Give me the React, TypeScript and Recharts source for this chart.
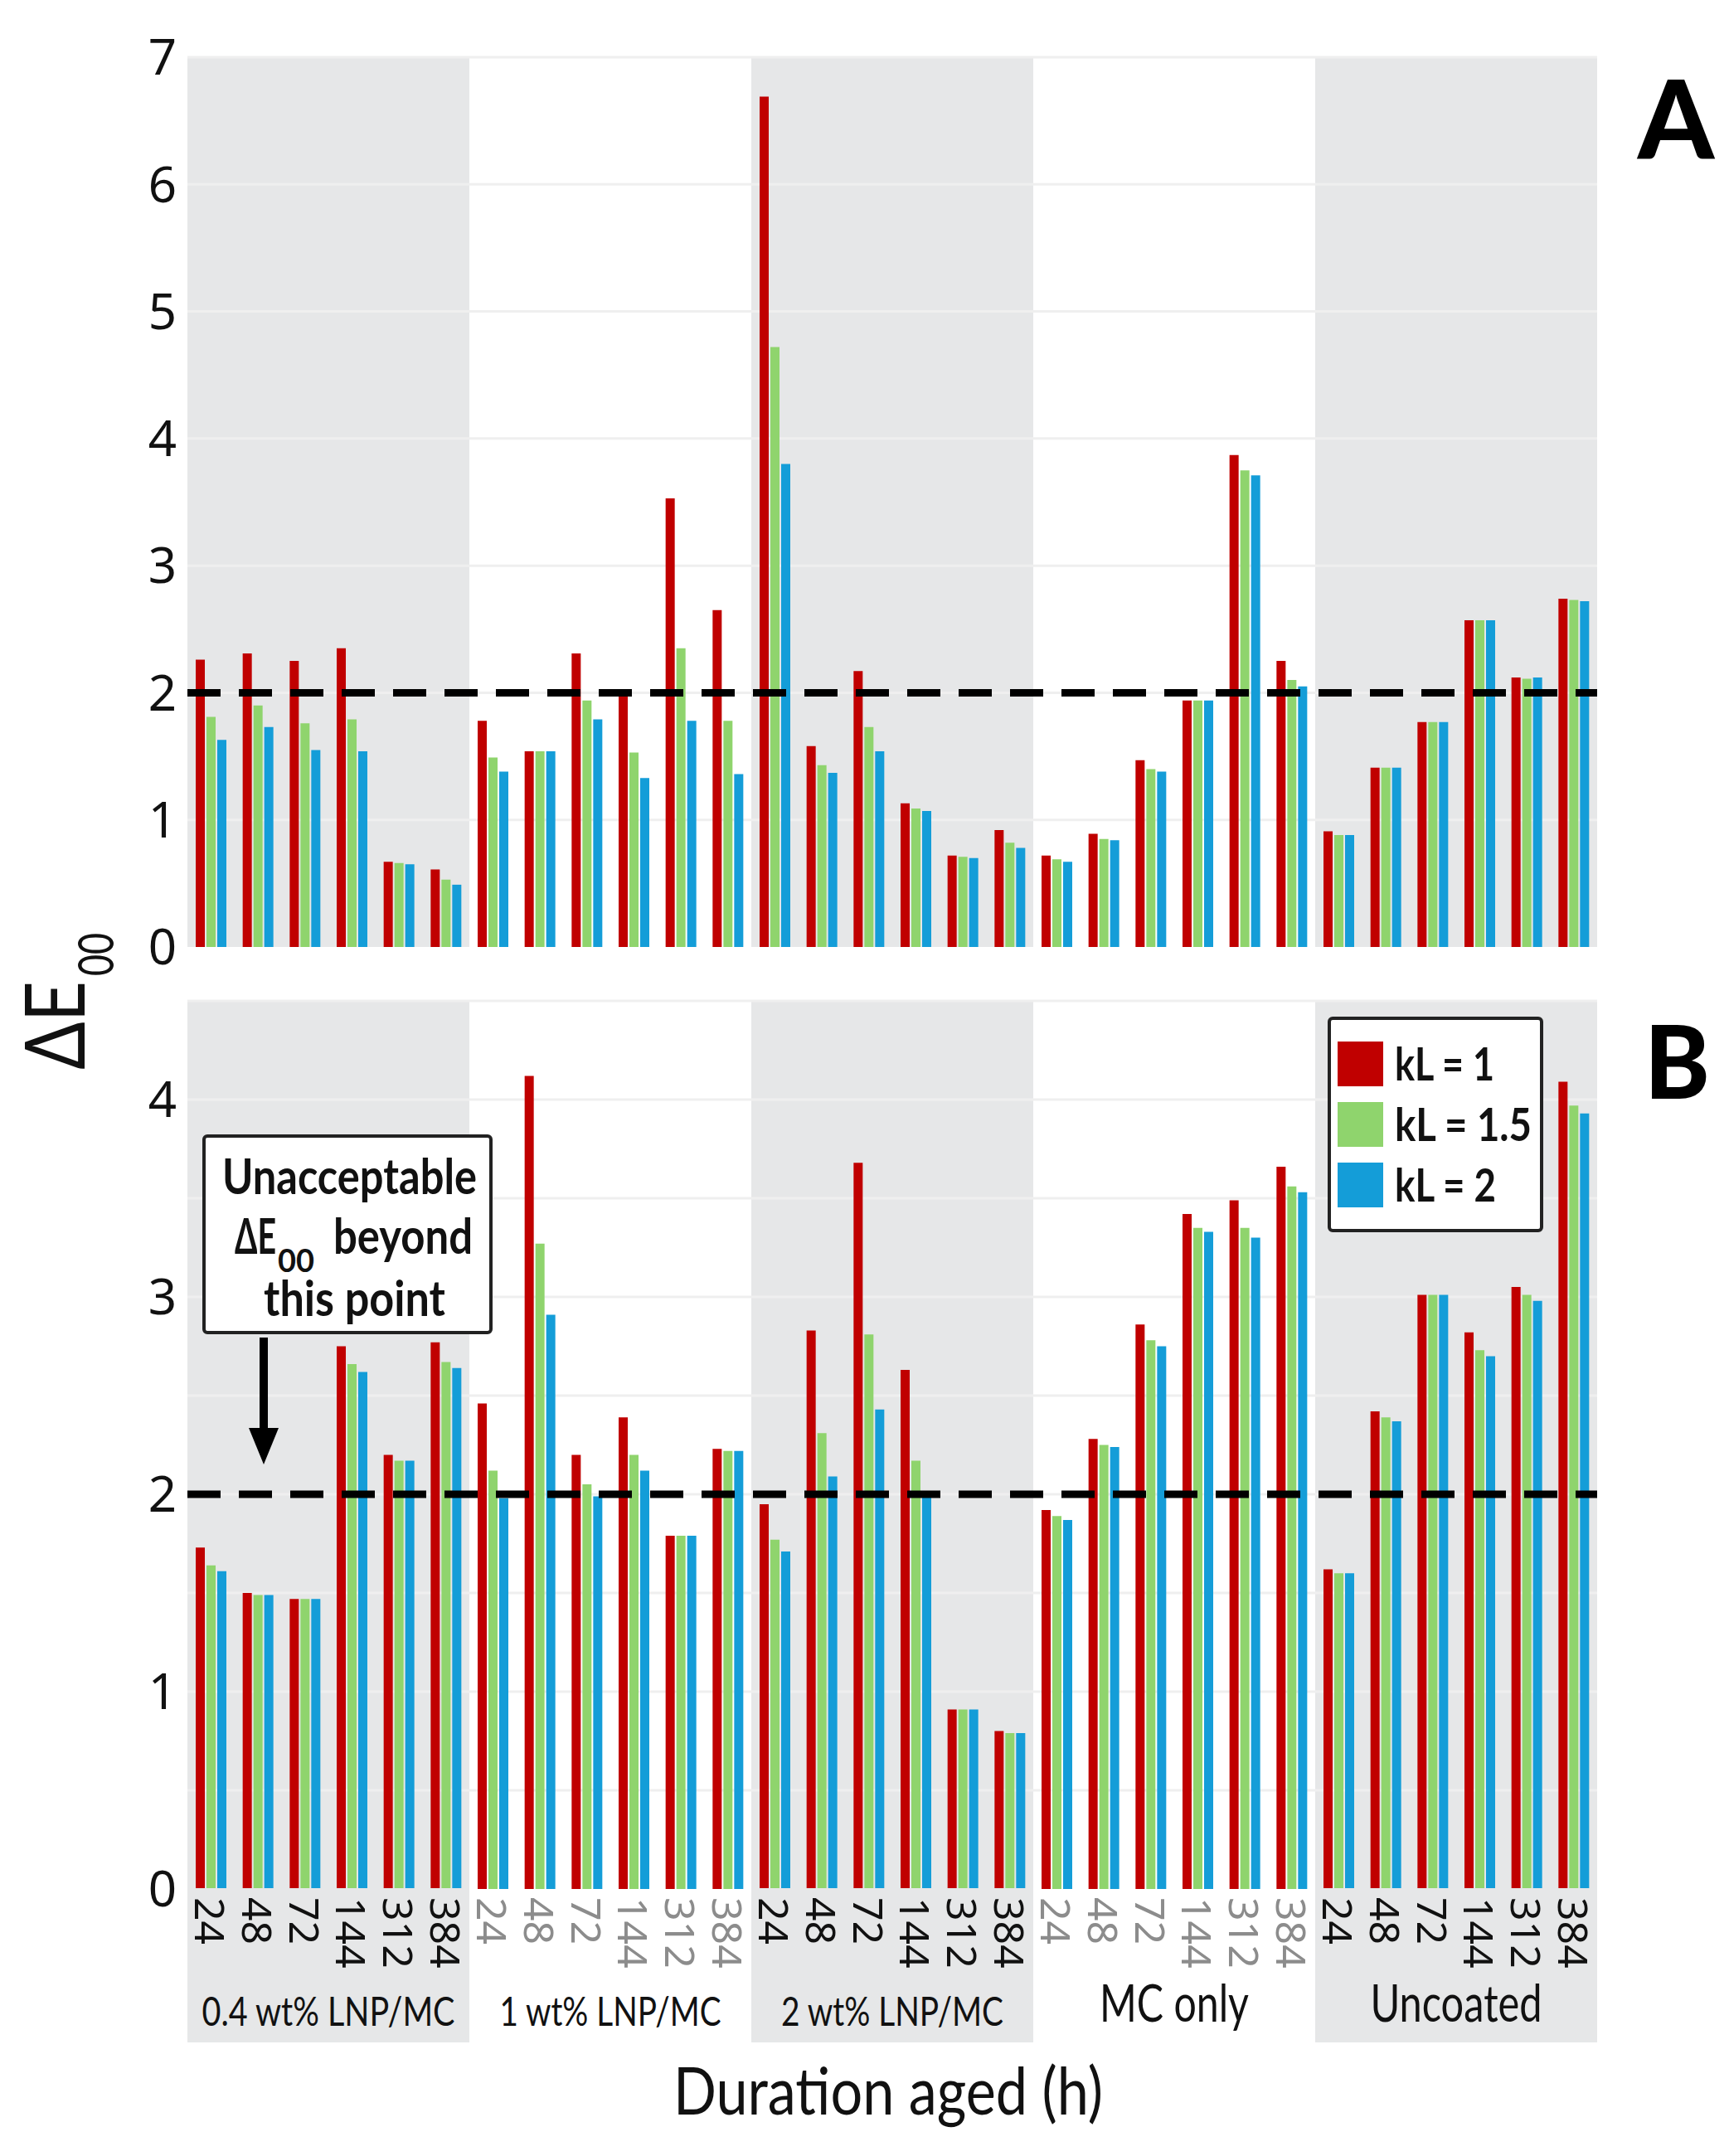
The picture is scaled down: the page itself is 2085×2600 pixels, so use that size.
import React from 'react';
import {
  BarChart,
  Bar,
  XAxis,
  YAxis,
  ReferenceArea,
  ReferenceLine,
  Legend,
} from 'recharts';

// ---------- data ----------
const hours = ['24', '48', '72', '144', '312', '384'];
const groups = ['0.4 wt% LNP/MC', '1 wt% LNP/MC', '2 wt% LNP/MC', 'MC only', 'Uncoated'];
const grayGroups = [true, false, true, false, true];

const seriesNames = ['kL = 1', 'kL = 1.5', 'kL = 2'];

const panelA_kL1 = [2.26, 2.31, 2.25, 2.35, 0.67, 0.61, 1.78, 1.54, 2.31, 2.01, 3.53, 2.65, 6.69, 1.58, 2.17, 1.13, 0.72, 0.92, 0.72, 0.89, 1.47, 1.94, 3.87, 2.25, 0.91, 1.41, 1.77, 2.57, 2.12, 2.74];
const panelA_kL15 = [1.81, 1.9, 1.76, 1.79, 0.66, 0.53, 1.49, 1.54, 1.94, 1.53, 2.35, 1.78, 4.72, 1.43, 1.73, 1.09, 0.71, 0.82, 0.69, 0.85, 1.4, 1.94, 3.75, 2.1, 0.88, 1.41, 1.77, 2.57, 2.11, 2.73];
const panelA_kL2 = [1.63, 1.73, 1.55, 1.54, 0.65, 0.49, 1.38, 1.54, 1.79, 1.33, 1.78, 1.36, 3.8, 1.37, 1.54, 1.07, 0.7, 0.78, 0.67, 0.84, 1.38, 1.94, 3.71, 2.05, 0.88, 1.41, 1.77, 2.57, 2.12, 2.72];

const panelB_kL1 = [1.73, 1.5, 1.47, 2.75, 2.2, 2.77, 2.46, 4.12, 2.2, 2.39, 1.79, 2.23, 1.95, 2.83, 3.68, 2.63, 0.91, 0.8, 1.92, 2.28, 2.86, 3.42, 3.49, 3.66, 1.62, 2.42, 3.01, 2.82, 3.05, 4.09];
const panelB_kL15 = [1.64, 1.49, 1.47, 2.66, 2.17, 2.67, 2.12, 3.27, 2.05, 2.2, 1.79, 2.22, 1.77, 2.31, 2.81, 2.17, 0.91, 0.79, 1.89, 2.25, 2.78, 3.35, 3.35, 3.56, 1.6, 2.39, 3.01, 2.73, 3.01, 3.97];
const panelB_kL2 = [1.61, 1.49, 1.47, 2.62, 2.17, 2.64, 1.98, 2.91, 1.99, 2.12, 1.79, 2.22, 1.71, 2.09, 2.43, 2.0, 0.91, 0.79, 1.87, 2.24, 2.75, 3.33, 3.3, 3.53, 1.6, 2.37, 3.01, 2.7, 2.98, 3.93];

const panelA_ticks = [0, 1, 2, 3, 4, 5, 6, 7];
const panelA_grid = [1, 2, 3, 4, 5, 6, 7];
const panelB_ticks = [0, 1, 2, 3, 4];
const panelB_grid = [0.5, 1, 1.5, 2, 2.5, 3, 3.5, 4, 4.5];
const threshold = 2;

// ---------- styling / layout ----------
const COLORS = ['#c00000', '#8fd46d', '#149dd8'];
const BAND = '#e6e7e8';
const GRID = '#efefef';
const FONT = "Lato, 'Noto Sans', sans-serif";
const TICKFONT = "'Noto Sans', 'Open Sans', sans-serif";
const INK = '#111';

// group label sizes / widths (text squeezed to the condensed look of the original)
const groupFontSizes = [49, 49, 49, 62, 62];
const groupTextWidths = [305, 267, 268, 180, 207];
const legendTextWidths = [120, 165, 122];

const W = 2085;
const H = 2600;
const PLOT_L = 226;
const PLOT_R = 1926;
const A_PLOT_TOP = 69;
const A_H = 1200;
const A_PLOT_BOTTOM = 1142;
const B_TOP = 1160;
const B_H = 1440;
const B_PLOT_TOP = 1207;
const B_PLOT_BOTTOM = 2278;
const XAXIS_H = 185;

const keyOf = (g: number, h: number) => `${g}-${hours[h]}`;

function buildRows(s1: number[], s2: number[], s3: number[]) {
  const out: any[] = [];
  groups.forEach((_, g) => {
    hours.forEach((hr, h) => {
      const i = g * hours.length + h;
      out.push({ key: keyOf(g, h), hour: hr, g, h, kL1: s1[i], kL15: s2[i], kL2: s3[i] });
    });
  });
  return out;
}

const rowsA = buildRows(panelA_kL1, panelA_kL15, panelA_kL2);
const rowsB = buildRows(panelB_kL1, panelB_kL15, panelB_kL2);
const bandW = (PLOT_R - PLOT_L) / rowsB.length;

function BottomTick(props: any) {
  const { x, y, payload } = props;
  const row = rowsB.find((r) => r.key === payload.value);
  if (!row) return null;
  const first = row.h === 0;
  const left = x - bandW / 2;
  return (
    <g>
      {first && grayGroups[row.g] && (
        <rect x={left} y={y - 1} width={bandW * hours.length} height={XAXIS_H + 1} fill={BAND} />
      )}
      <text
        transform={`translate(${x},${y + 10}) rotate(90)`}
        textAnchor="start"
        dominantBaseline="central"
        fontFamily={TICKFONT}
        fontSize={50}
        fill={grayGroups[row.g] ? INK : '#8c8c8c'}
      >
        {row.hour}
      </text>
      {first && (
        <text
          x={left + (bandW * hours.length) / 2}
          y={y + (row.g >= 3 ? 160 : 165)}
          textAnchor="middle"
          fontFamily={FONT}
          fontSize={groupFontSizes[row.g]}
          textLength={groupTextWidths[row.g]}
          lengthAdjust="spacingAndGlyphs"
          fill={INK}
        >
          {groups[row.g]}
        </text>
      )}
    </g>
  );
}

function LegendBox() {
  return (
    <svg width={262} height={262} style={{ display: 'block' }}>
      <rect x={2} y={2} width={256} height={256} rx={4} fill="#fff" stroke="#222" strokeWidth={4} />
      {seriesNames.map((n, i) => (
        <g key={n}>
          <rect x={12} y={30 + i * 73} width={55} height={54} fill={COLORS[i]} />
          <text
            x={81}
            y={77 + i * 73}
            fontFamily={FONT}
            fontWeight={700}
            fontSize={56}
            textLength={legendTextWidths[i]}
            lengthAdjust="spacingAndGlyphs"
            fill={INK}
          >
            {n}
          </text>
        </g>
      ))}
    </svg>
  );
}

const yTickStyle = { fontFamily: TICKFONT, fontSize: 60, fill: INK };

function PanelA() {
  return (
    <BarChart
      width={W}
      height={A_H}
      data={rowsA}
      margin={{ top: A_PLOT_TOP, right: W - PLOT_R, bottom: A_H - A_PLOT_BOTTOM, left: 0 }}
      barSize={11}
      barGap={2}
    >
      <XAxis dataKey="key" hide />
      <YAxis
        width={PLOT_L}
        domain={[0, 7]}
        ticks={panelA_ticks}
        interval={0}
        axisLine={false}
        tickLine={false}
        tickSize={0}
        tickMargin={13}
        tick={yTickStyle}
      />
      {groups.map((g, gi) =>
        grayGroups[gi] ? (
          <ReferenceArea
            key={g}
            x1={keyOf(gi, 0)}
            x2={keyOf(gi, hours.length - 1)}
            y1={0}
            y2={7}
            fill={BAND}
            fillOpacity={1}
            stroke="none"
            zIndex={-90}
          />
        ) : null
      )}
      {panelA_grid.map((v) => (
        <ReferenceLine key={v} y={v} stroke={GRID} strokeWidth={3} zIndex={-80} />
      ))}
      <Bar dataKey="kL1" name={seriesNames[0]} fill={COLORS[0]} isAnimationActive={false} />
      <Bar dataKey="kL15" name={seriesNames[1]} fill={COLORS[1]} isAnimationActive={false} />
      <Bar dataKey="kL2" name={seriesNames[2]} fill={COLORS[2]} isAnimationActive={false} />
      <ReferenceLine y={threshold} stroke="#000" strokeWidth={9} strokeDasharray="40 22" zIndex={800} />
    </BarChart>
  );
}

function PanelB() {
  return (
    <BarChart
      width={W}
      height={B_H}
      data={rowsB}
      margin={{
        top: B_PLOT_TOP - B_TOP,
        right: W - PLOT_R,
        bottom: B_H - (B_PLOT_BOTTOM - B_TOP) - XAXIS_H,
        left: 0,
      }}
      barSize={11}
      barGap={2}
    >
      <XAxis
        dataKey="key"
        height={XAXIS_H}
        interval={0}
        axisLine={false}
        tickLine={false}
        tickSize={0}
        tickMargin={0}
        tick={<BottomTick />}
      />
      <YAxis
        width={PLOT_L}
        domain={[0, 4.5]}
        ticks={panelB_ticks}
        interval={0}
        axisLine={false}
        tickLine={false}
        tickSize={0}
        tickMargin={13}
        tick={yTickStyle}
      />
      {groups.map((g, gi) =>
        grayGroups[gi] ? (
          <ReferenceArea
            key={g}
            x1={keyOf(gi, 0)}
            x2={keyOf(gi, hours.length - 1)}
            y1={0}
            y2={4.5}
            fill={BAND}
            fillOpacity={1}
            stroke="none"
            zIndex={-90}
          />
        ) : null
      )}
      {panelB_grid.map((v) => (
        <ReferenceLine key={v} y={v} stroke={GRID} strokeWidth={3} zIndex={-80} />
      ))}
      <Bar dataKey="kL1" name={seriesNames[0]} fill={COLORS[0]} isAnimationActive={false} />
      <Bar dataKey="kL15" name={seriesNames[1]} fill={COLORS[1]} isAnimationActive={false} />
      <Bar dataKey="kL2" name={seriesNames[2]} fill={COLORS[2]} isAnimationActive={false} />
      <ReferenceLine y={threshold} stroke="#000" strokeWidth={9} strokeDasharray="40 22" zIndex={800} />
      <Legend
        layout="vertical"
        align="center"
        verticalAlign="middle"
        content={() => <LegendBox />}
        wrapperStyle={{ position: 'absolute', left: 1601, top: 1226 - B_TOP, width: 262, height: 262 }}
      />
    </BarChart>
  );
}

function Overlay() {
  return (
    <svg
      width={W}
      height={H}
      style={{ position: 'absolute', left: 0, top: 0, pointerEvents: 'none' }}
    >
      {/* y-axis title: ΔE00 */}
      <text
        transform="translate(102,1290) rotate(-90)"
        fontFamily={FONT}
        fontSize={100}
        textLength={107}
        lengthAdjust="spacingAndGlyphs"
        fill={INK}
      >
        ΔE
      </text>
      <text
        transform="translate(137,1177) rotate(-90)"
        fontFamily={FONT}
        fontSize={60}
        textLength={52}
        lengthAdjust="spacingAndGlyphs"
        fill={INK}
      >
        00
      </text>

      {/* panel letters */}
      <text x={1975} y={192} fontFamily={FONT} fontWeight={900} fontSize={132} textLength={92} lengthAdjust="spacingAndGlyphs" fill="#000">
        A
      </text>
      <text x={1983} y={1325} fontFamily={FONT} fontWeight={900} fontSize={122} textLength={79} lengthAdjust="spacingAndGlyphs" fill="#000">
        B
      </text>

      {/* x-axis title */}
      <text x={812} y={2550} fontFamily={FONT} fontSize={80} textLength={518} lengthAdjust="spacingAndGlyphs" fill={INK}>
        Duration aged (h)
      </text>

      {/* annotation */}
      <rect x={246} y={1370} width={346} height={237} rx={4} fill="#fff" stroke="#222" strokeWidth={4} />
      <text x={268} y={1440} fontFamily={FONT} fontWeight={700} fontSize={60} textLength={307} lengthAdjust="spacingAndGlyphs" fill={INK}>
        Unacceptable
      </text>
      <text x={283} y={1512} fontFamily={FONT} fontWeight={700} fontSize={60} textLength={50} lengthAdjust="spacingAndGlyphs" fill={INK}>
        ΔE
      </text>
      <text x={335} y={1534} fontFamily={FONT} fontWeight={700} fontSize={38} textLength={44} lengthAdjust="spacingAndGlyphs" fill={INK}>
        00
      </text>
      <text x={402} y={1512} fontFamily={FONT} fontWeight={700} fontSize={60} textLength={168} lengthAdjust="spacingAndGlyphs" fill={INK}>
        beyond
      </text>
      <text x={318} y={1587} fontFamily={FONT} fontWeight={700} fontSize={60} textLength={219} lengthAdjust="spacingAndGlyphs" fill={INK}>
        this point
      </text>
      <rect x={313} y={1613} width={10} height={120} fill="#000" />
      <polygon points="300,1722 336,1722 318,1766" fill="#000" />
    </svg>
  );
}

export default function App() {
  return (
    <div style={{ position: 'absolute', left: 0, top: 0, width: W, height: H, background: '#fff', overflow: 'hidden' }}>
      <div style={{ position: 'absolute', left: 0, top: 0 }}>
        <PanelA />
      </div>
      <div style={{ position: 'absolute', left: 0, top: B_TOP }}>
        <PanelB />
      </div>
      <Overlay />
    </div>
  );
}
